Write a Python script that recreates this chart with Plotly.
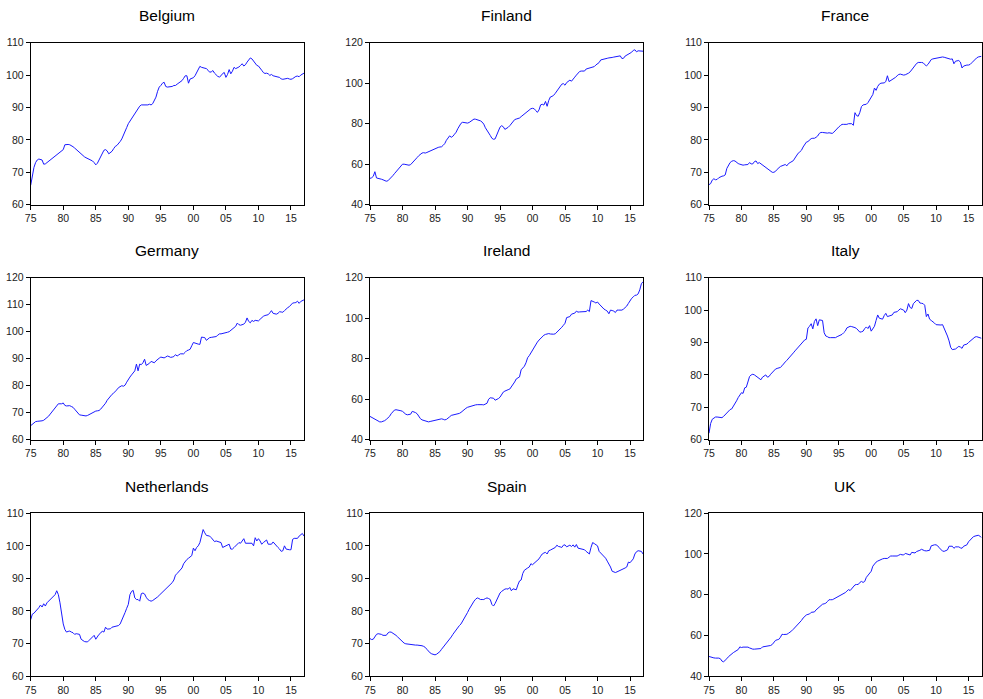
import plotly.graph_objects as go

# Quarterly index values, 1975Q1 .. 2017Q1 (one row per year, four quarters each)
belgium = [
    66.0, 69.0, 71.5, 73.0,
    73.8, 74.1, 74.0, 73.8,
    72.5, 72.6, 73.0, 73.4,
    73.8, 74.2, 74.6, 75.0,
    75.3, 75.7, 76.1, 76.5,
    77.0, 78.5, 78.6, 78.6,
    78.5, 78.3, 77.9, 77.5,
    77.0, 76.5, 76.0, 75.5,
    75.1, 74.8, 74.5, 74.3,
    74.0, 73.8, 73.5, 73.0,
    72.3, 72.8, 73.8, 75.0,
    76.2, 76.8, 77.0, 76.6,
    75.7, 76.0, 76.5, 77.3,
    78.0, 78.3, 78.8, 79.5,
    80.3, 81.3, 82.5, 83.8,
    85.0, 85.8, 86.6, 87.3,
    88.0, 88.8, 89.7, 90.4,
    90.8, 90.8, 90.6, 90.7,
    90.8, 91.0, 90.8, 91.2,
    92.0, 93.2, 95.0, 96.3,
    96.8, 97.5, 97.8, 96.5,
    96.3, 96.3, 96.3, 96.5,
    96.8, 96.8, 97.2, 97.6,
    98.0, 98.3, 99.0, 99.8,
    99.8, 97.5, 98.8, 99.0,
    99.2, 99.8, 100.8, 101.8,
    102.7, 102.4, 102.2, 102.2,
    102.0, 101.5, 100.9, 101.0,
    101.4, 100.6, 100.0, 99.6,
    99.4, 99.8, 100.5, 100.8,
    99.3, 100.2, 101.7, 100.4,
    101.2, 102.4, 102.0, 102.2,
    102.5, 103.0, 103.5, 102.8,
    103.2, 104.0, 104.8, 105.3,
    105.0, 104.3, 103.6, 103.0,
    102.8, 102.3, 101.5, 100.8,
    100.5, 100.6, 100.4, 99.9,
    100.2, 99.8, 99.6, 99.5,
    99.4, 99.3, 98.8, 98.7,
    98.8, 98.9, 99.0, 98.8,
    98.7, 98.9, 99.3, 99.6,
    99.7, 99.5, 100.0, 100.3,
    100.6,
]

finland = [
    53.0, 53.3, 54.0, 56.3,
    53.2, 53.1, 52.9, 52.6,
    52.3, 52.0, 51.6, 51.8,
    52.5, 53.3, 54.3, 55.3,
    56.3, 57.3, 58.3, 59.3,
    60.0, 60.0, 59.9, 59.7,
    59.5, 59.8, 60.8, 61.8,
    62.5, 63.3, 64.2, 65.0,
    65.5, 65.7, 65.5, 65.8,
    66.2, 66.5, 66.7, 67.2,
    67.5, 67.9, 68.3, 68.5,
    68.6, 69.3, 70.2, 71.8,
    73.2, 74.0, 73.3, 73.8,
    74.8, 75.8, 77.5, 79.2,
    80.2, 80.7, 80.5, 80.2,
    80.3, 80.6, 81.3, 82.0,
    82.3, 82.2, 82.0, 81.7,
    81.4, 80.8, 79.8, 78.0,
    76.5, 75.3, 74.2, 72.8,
    72.3, 72.5, 74.5, 77.0,
    78.3, 79.0, 78.5, 77.2,
    77.5, 78.2, 79.0, 80.0,
    81.0, 82.0, 82.3, 82.6,
    82.8, 83.5, 84.2, 85.0,
    85.5, 86.3, 87.0, 87.4,
    87.6, 87.4, 86.5, 85.6,
    86.8, 89.3, 89.6, 89.2,
    91.0, 88.6, 91.5, 93.2,
    93.5, 94.0, 95.0, 96.0,
    97.2, 98.5, 99.5, 99.8,
    99.0, 100.3, 100.8, 101.5,
    101.0, 101.8, 103.0, 104.0,
    105.0, 105.8, 106.0, 106.1,
    106.0, 107.0, 107.2, 107.3,
    107.5, 107.8, 108.2, 109.0,
    109.6, 110.2, 111.5, 111.8,
    112.0, 112.2, 112.3, 112.5,
    112.5, 112.7, 112.9, 113.0,
    113.0, 113.3, 113.5, 112.2,
    112.3, 113.4, 114.0, 114.5,
    114.8, 115.3, 116.2, 116.5,
    115.5, 116.0, 116.0, 115.9,
    115.8,
]

france = [
    66.2, 66.5, 67.6, 68.0,
    67.7, 67.8, 68.3, 68.6,
    68.8, 68.9, 69.2, 71.2,
    72.3, 73.0, 73.4, 73.6,
    73.5, 73.0, 72.7, 72.5,
    72.3, 72.2, 72.3, 72.3,
    72.4, 73.0, 72.6, 72.6,
    73.3, 73.5, 72.7, 73.0,
    72.6, 72.2, 71.9, 71.5,
    71.2, 70.8, 70.4, 70.0,
    70.0, 70.3, 70.9, 71.5,
    71.8, 72.0, 72.2, 72.4,
    72.0, 72.7, 73.0, 73.2,
    73.6, 74.4, 75.2, 75.9,
    76.3, 76.8, 77.8, 78.6,
    79.3, 79.5, 79.9, 80.4,
    80.5, 80.5, 80.8, 81.2,
    82.0, 82.3, 82.3, 82.2,
    82.0, 82.1, 82.2, 82.1,
    82.0, 82.4, 83.0, 83.6,
    84.0, 84.4, 84.8, 84.8,
    84.7, 84.8, 85.0, 85.1,
    85.0, 84.5, 88.4, 87.5,
    87.3, 88.5, 90.3, 90.8,
    91.0, 91.0, 91.5, 92.5,
    93.2, 94.0, 96.0, 95.3,
    96.5, 97.2, 97.5, 97.5,
    97.6, 98.0, 99.8, 98.0,
    98.3, 98.5, 98.9, 99.3,
    99.8, 100.2, 100.3, 100.1,
    100.0, 100.1, 100.3, 100.6,
    101.0, 101.7, 102.5, 103.2,
    103.6, 103.9, 104.0, 103.9,
    103.8, 103.3, 102.8, 103.3,
    104.0, 104.8, 105.0, 105.1,
    105.3, 105.5, 105.6, 105.6,
    105.6, 105.5, 105.3, 105.2,
    105.0, 104.9, 105.0, 103.5,
    104.3, 104.4, 104.5, 104.0,
    102.2, 102.8, 103.0, 103.1,
    103.1, 103.3, 103.8, 104.4,
    105.0, 105.3, 105.6, 105.8,
    105.8,
]

germany = [
    65.2, 65.8, 66.4, 66.7,
    66.8, 66.8, 66.8, 67.0,
    67.2, 67.6, 68.0, 68.7,
    69.5, 70.2, 71.0, 71.8,
    72.5, 73.3, 73.3, 73.3,
    73.6, 72.7, 72.5, 72.5,
    72.6, 72.3, 72.0, 71.3,
    70.5, 69.8, 69.2, 69.1,
    69.0, 68.9, 68.8, 69.0,
    69.3, 69.8, 70.2, 70.4,
    70.6, 70.7, 70.8, 71.3,
    72.0, 72.7, 73.5, 74.6,
    75.5, 76.2, 76.8, 77.3,
    77.8, 78.5, 79.3, 79.7,
    80.0, 79.8, 80.2, 81.3,
    82.5, 83.2, 84.0, 84.8,
    85.5, 88.0, 85.5, 88.0,
    87.8, 88.5, 89.8, 87.5,
    87.8, 88.3, 89.0, 88.8,
    88.5, 89.2, 89.8, 90.2,
    90.6, 90.5, 90.3, 90.6,
    91.0, 90.8, 90.5, 90.6,
    90.8, 91.5, 91.0, 91.4,
    91.8, 91.8, 91.8, 92.4,
    93.0, 93.2, 93.5, 94.8,
    96.0, 95.8, 95.5, 95.4,
    95.3, 98.0, 97.9, 97.8,
    96.8, 97.3, 97.8, 97.9,
    98.0, 98.1, 98.2, 98.7,
    99.2, 99.2, 99.3, 99.5,
    99.7, 99.8, 100.0, 100.5,
    101.0, 101.5, 102.0, 103.2,
    102.6, 102.4, 102.5, 102.8,
    103.5, 105.1, 103.8, 103.3,
    104.2, 103.8, 104.2, 104.1,
    104.0, 104.6, 105.3, 105.7,
    106.0, 106.1, 106.3, 107.0,
    107.8, 106.8, 106.6, 106.5,
    106.8, 107.4, 107.3, 107.2,
    107.8, 108.5, 108.9, 109.3,
    110.0, 110.6, 110.7, 110.8,
    111.3, 110.5, 111.2, 111.4,
    111.8,
]

ireland = [
    51.5, 51.0, 50.5, 50.0,
    49.5, 49.1, 48.8, 48.8,
    49.0, 49.4, 50.0, 50.7,
    51.5, 52.8, 54.0, 54.6,
    54.8, 54.7, 54.5, 54.3,
    54.0, 53.2, 52.6, 52.3,
    52.4, 52.6, 54.0, 53.8,
    53.4, 52.8, 51.2, 50.4,
    49.8, 49.5, 49.2, 49.0,
    48.8, 49.0, 49.2, 49.5,
    49.7, 49.9, 50.1, 50.2,
    50.3, 50.1, 49.8, 50.0,
    50.5, 51.3, 52.0, 52.2,
    52.3, 52.4, 52.5, 53.0,
    53.5, 54.3, 55.0, 55.5,
    56.0, 56.3, 56.5, 56.8,
    57.0, 57.2, 57.3, 57.4,
    57.5, 57.3, 57.2, 57.5,
    58.0, 60.0, 60.7, 60.6,
    60.5, 59.5, 59.8, 60.3,
    61.0, 62.3, 63.5, 64.0,
    64.5, 64.7, 65.0, 66.0,
    67.0, 68.5, 70.0, 70.5,
    71.0, 74.5, 75.3, 76.3,
    78.0, 80.5, 81.5, 83.0,
    84.5, 85.8, 87.0, 88.2,
    89.2, 90.2, 91.0, 91.6,
    92.0, 92.3, 92.4, 92.2,
    92.0, 92.1, 92.3, 93.0,
    94.0, 94.8, 95.5, 96.5,
    97.5, 100.3, 100.5, 100.8,
    102.0, 102.3, 102.5, 103.5,
    103.0, 103.1, 103.2, 103.3,
    103.5, 103.3, 104.0, 103.3,
    108.7, 108.5, 108.0, 107.5,
    108.0, 107.0, 106.0, 105.2,
    104.5, 104.0, 103.5, 102.2,
    104.0, 103.8, 103.5, 102.8,
    104.0, 104.0, 104.0, 104.0,
    104.5, 105.2, 106.0, 107.3,
    108.8, 109.8, 110.5, 111.3,
    111.4, 112.0, 114.0, 117.0,
    118.0,
]

italy = [
    62.0, 65.0, 66.3, 66.8,
    67.0, 67.0, 67.0, 66.9,
    66.8, 67.2, 67.8, 68.4,
    69.0, 69.3, 69.5, 70.2,
    71.0, 72.0, 73.0, 73.8,
    74.5, 74.3, 76.0, 76.2,
    78.0, 79.5, 80.0, 80.2,
    80.0, 79.6, 79.3, 79.0,
    78.5, 79.3, 79.8, 80.0,
    79.3, 79.5, 80.2, 80.8,
    81.5, 81.8, 82.0, 82.2,
    82.3, 82.8, 83.5, 84.0,
    84.5, 85.0, 85.5, 86.2,
    86.8, 87.4, 88.0, 88.7,
    89.3, 89.9, 90.5, 90.8,
    91.0, 94.5, 95.0, 95.8,
    94.2, 96.5, 97.3, 95.2,
    97.0, 97.0, 96.8, 93.0,
    92.0, 91.8, 91.5, 91.5,
    91.5, 91.5, 91.5, 91.8,
    92.0, 92.2, 92.5, 93.0,
    93.5, 94.5, 94.8, 95.0,
    94.9, 94.8, 94.6, 94.3,
    93.8, 93.2, 93.3, 93.5,
    94.3, 94.8, 94.3, 95.2,
    93.5, 94.2, 95.0, 96.8,
    98.5, 97.5, 97.3, 97.2,
    98.3, 99.0, 98.0, 98.1,
    98.2, 98.5, 99.3, 99.4,
    99.5, 100.0, 100.4, 100.2,
    100.0, 99.2, 100.0, 102.0,
    100.8, 100.5, 102.0, 102.5,
    103.0, 103.0, 102.2, 102.1,
    102.0, 101.5, 98.0, 98.8,
    97.2, 96.8, 96.5, 96.0,
    95.5, 95.4, 95.3, 95.4,
    95.5, 94.5, 93.0, 92.0,
    90.5, 88.5, 87.8, 87.9,
    88.0, 88.4, 88.8, 88.6,
    88.2, 89.2, 89.4, 89.5,
    90.0, 90.5, 91.0, 91.4,
    91.7, 91.8, 91.7, 91.5,
    91.3,
]

netherlands = [
    77.3, 79.0, 79.3, 79.8,
    80.5, 81.0, 81.8, 81.2,
    82.2, 81.5, 82.5, 83.0,
    83.8, 84.2, 84.5, 85.0,
    86.2, 85.0, 82.5, 79.2,
    76.0, 74.3, 73.5, 73.7,
    73.8, 73.5, 73.3, 72.8,
    73.0, 72.9, 72.8, 71.3,
    70.8, 70.6, 70.5, 70.5,
    71.0, 71.5, 72.0, 72.5,
    71.3, 72.3, 72.8, 73.2,
    73.8, 73.5, 75.0, 74.4,
    74.4, 74.5, 75.0, 75.1,
    75.2, 75.3, 75.5, 76.0,
    77.0, 78.2, 79.5, 80.8,
    82.0, 85.0, 86.0, 86.3,
    84.0, 83.5, 83.5, 83.0,
    85.3, 85.5, 85.2, 84.2,
    83.5, 83.2, 83.0, 83.2,
    83.5, 83.9, 84.3, 84.8,
    85.3, 85.8, 86.2, 86.6,
    87.0, 87.5, 88.0, 88.7,
    89.5, 91.0, 91.5, 92.0,
    92.5, 93.2, 94.5, 95.2,
    95.8, 96.2, 96.5, 97.0,
    99.3, 98.5, 99.5, 100.0,
    101.0, 103.0, 105.0, 104.0,
    103.2, 103.1, 103.0, 102.5,
    102.0, 101.3, 101.5, 101.3,
    101.2, 101.0, 99.5, 99.8,
    100.0, 100.3, 100.5, 99.0,
    99.0, 99.5, 100.0, 100.5,
    101.0, 100.8, 101.5, 102.2,
    100.8, 100.8, 100.8, 100.8,
    100.8, 100.0, 102.5, 101.5,
    102.2, 101.5, 100.5, 101.0,
    101.5, 101.8, 100.5, 100.5,
    100.5, 101.2, 100.5, 100.0,
    99.5, 99.0, 98.3, 98.5,
    100.0, 99.0, 98.8, 98.8,
    98.8, 102.0, 102.3, 102.3,
    102.3, 103.0, 103.5, 103.8,
    103.0,
]

spain = [
    71.5, 71.2, 71.3, 72.3,
    72.8, 73.0, 73.0, 72.8,
    72.5, 72.4, 72.5, 73.2,
    73.5, 73.5, 73.2, 72.9,
    72.5, 72.0, 71.5, 71.0,
    70.5, 70.1, 69.9, 69.8,
    69.8, 69.8, 69.7, 69.6,
    69.5, 69.5, 69.5, 69.4,
    69.3, 69.1, 68.8, 68.2,
    67.5, 67.1, 66.8, 66.6,
    66.5, 66.7, 67.0, 67.5,
    68.2, 68.8, 69.5, 70.0,
    70.5, 71.2, 72.0, 72.8,
    73.5, 74.3, 75.0, 75.5,
    76.0, 76.8, 77.5, 78.5,
    79.5, 80.5, 81.5, 82.3,
    83.0, 83.6, 84.0, 83.8,
    83.5, 83.5, 83.5, 83.8,
    84.0, 83.8, 83.5, 82.0,
    81.5, 82.3, 83.5, 84.8,
    85.5, 86.0, 86.5, 86.7,
    86.8, 86.7, 87.2, 86.2,
    86.8, 86.6, 86.5, 88.0,
    89.2, 89.5, 91.5, 92.5,
    93.0, 93.2, 93.5, 94.5,
    94.2, 94.6, 95.0, 95.5,
    96.0, 96.8, 97.5, 97.8,
    98.0, 97.5, 98.5, 98.7,
    99.0, 99.2, 99.5, 100.2,
    99.8, 99.7, 99.5, 100.2,
    100.3, 99.7, 100.0, 100.2,
    99.8, 100.3, 99.6, 100.4,
    99.3, 99.2, 99.0, 98.9,
    98.8, 98.3, 98.0, 97.5,
    99.5, 101.0, 100.7, 100.4,
    100.0, 98.3, 97.8, 97.3,
    96.5, 96.2, 95.3, 94.5,
    93.5, 92.2, 92.0, 91.8,
    92.0, 92.2, 92.5, 92.7,
    93.0, 93.2, 93.5, 95.0,
    94.8, 95.3, 96.0, 97.5,
    98.2, 98.5, 98.5, 98.3,
    97.5,
]

uk = [
    49.6, 49.3, 49.0, 48.9,
    48.8, 48.9, 48.8, 48.5,
    47.3, 47.0, 47.6, 48.5,
    49.5, 50.3, 51.0, 51.5,
    52.0, 52.5, 53.0, 54.3,
    54.0, 54.2, 54.3, 54.3,
    54.2, 53.8, 53.3, 53.2,
    53.2, 53.3, 53.3, 53.3,
    53.5, 54.3, 54.4, 54.5,
    54.8, 54.9, 55.0, 55.5,
    56.5, 57.5, 57.8, 58.0,
    59.0, 60.5, 60.4, 60.3,
    60.5, 61.0, 61.5, 62.2,
    63.0, 63.8, 64.5, 65.2,
    66.0, 67.3, 68.5, 69.3,
    70.0, 70.3, 70.5, 71.3,
    71.5, 71.5, 72.5, 73.2,
    74.0, 74.7, 75.3, 75.5,
    75.8, 76.6, 77.5, 77.5,
    77.5, 77.9, 78.3, 78.6,
    79.0, 79.4, 79.8, 80.4,
    81.0, 81.7, 82.5, 82.0,
    83.0, 84.0, 84.8, 85.0,
    85.0, 86.0, 86.5, 86.0,
    86.5, 88.5, 89.5, 90.5,
    91.5, 94.0, 95.2, 96.0,
    96.5, 97.0, 97.5, 97.6,
    97.8, 97.8, 97.8, 98.4,
    99.0, 99.0, 99.0, 99.0,
    99.0, 99.4, 99.8, 99.6,
    99.5, 100.3, 100.1, 100.0,
    99.5, 100.8, 100.6, 100.5,
    101.2, 101.4, 101.8, 102.3,
    101.8, 101.6, 101.5, 101.6,
    101.8, 104.0, 104.4, 104.5,
    104.5, 104.0, 103.0, 102.0,
    101.4, 101.3, 101.5, 102.0,
    103.8, 103.8, 103.8, 102.8,
    103.5, 103.5, 103.5, 103.0,
    102.8, 103.8, 104.2, 104.5,
    106.0, 107.0, 107.5, 108.5,
    108.8, 109.0, 109.2, 108.8,
    108.0,
]

countries = ["Belgium", "Finland", "France",
             "Germany", "Ireland", "Italy",
             "Netherlands", "Spain", "UK"]
series = [belgium, finland, france,
          germany, ireland, italy,
          netherlands, spain, uk]
y_ranges = [(60, 110), (40, 120), (60, 110),
            (60, 120), (40, 120), (60, 110),
            (60, 110), (60, 110), (40, 120)]
y_steps = [10, 20, 10,
           10, 20, 10,
           10, 10, 20]

year_ticks = [1975, 1980, 1985, 1990, 1995, 2000, 2005, 2010, 2015]
year_labels = ["75", "80", "85", "90", "95", "00", "05", "10", "15"]

first_year = 1975
quarters = [first_year + i / 4 for i in range(len(belgium))]

W, H = 983, 699
# panel frames in pixels: columns (left, right), rows (top, bottom)
cols_px = [(30.7, 304.0), (370.0, 643.0), (709.0, 981.5)]
rows_px = [(42.7, 204.7), (277.7, 439.7), (513.3, 676.0)]

FONT = "Liberation Sans, Arial, sans-serif"

fig = go.Figure()
annotations = []
for k, (name, vals) in enumerate(zip(countries, series)):
    r, c = divmod(k, 3)
    xa = "xaxis" if k == 0 else f"xaxis{k + 1}"
    ya = "yaxis" if k == 0 else f"yaxis{k + 1}"
    xref = "x" if k == 0 else f"x{k + 1}"
    yref = "y" if k == 0 else f"y{k + 1}"
    x0, x1 = cols_px[c]
    t, b = rows_px[r]
    fig.add_trace(go.Scatter(
        x=quarters, y=vals, mode="lines",
        line=dict(color="#1a1aff", width=1),
        xaxis=xref, yaxis=yref, showlegend=False, hoverinfo="skip",
    ))
    lo, hi = y_ranges[k]
    common = dict(
        ticks="outside", ticklen=4, tickwidth=1, tickcolor="black",
        showline=True, linecolor="black", linewidth=1, mirror=True,
        showgrid=False, zeroline=False, automargin=False,
        tickfont=dict(family=FONT, size=10.5, color="#222"),
    )
    fig.update_layout({
        xa: dict(
            domain=[x0 / W, x1 / W], anchor=yref,
            range=[first_year, 2017.0],
            tickvals=year_ticks, ticktext=year_labels,
            **common,
        ),
        ya: dict(
            domain=[1 - b / H, 1 - t / H], anchor=xref,
            range=[lo, hi],
            tickvals=list(range(lo, hi + 1, y_steps[k])),
            **common,
        ),
    })
    annotations.append(dict(
        text=name, x=(x0 + x1) / 2 / W, y=1 - (t - 27) / H,
        xref="paper", yref="paper", xanchor="center", yanchor="middle",
        showarrow=False, font=dict(family=FONT, size=15.5, color="black"),
    ))

fig.update_layout(
    width=W, height=H,
    margin=dict(l=0, r=0, t=0, b=0, pad=0, autoexpand=False),
    paper_bgcolor="white", plot_bgcolor="white",
    annotations=annotations,
)

fig.write_html("out.html")
